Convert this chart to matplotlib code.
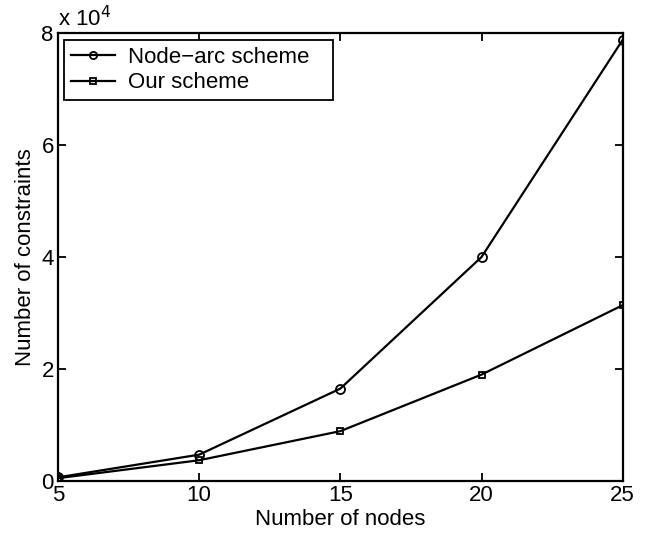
import matplotlib
matplotlib.use("Agg")
import matplotlib.pyplot as plt

plt.rcParams['font.family'] = ['Liberation Sans', 'DejaVu Sans']

# data (number of constraints, x 10^4 shown on axis)
nodes = [5, 10, 15, 20, 25]
node_arc = [650, 4700, 16500, 40000, 78800]
ours = [500, 3700, 8900, 19000, 31400]
y_ticks = [0, 2, 4, 6, 8]

fig = plt.figure(figsize=(6.62, 5.34), dpi=100)
ax = fig.add_axes([0.0876, 0.0993, 0.853, 0.8387])

ax.plot(nodes, [v / 1e4 for v in node_arc], color='black', lw=1.6, marker='o',
        markersize=6.5, markerfacecolor='none', markeredgewidth=1.3, label='Node\u2212arc scheme')
ax.plot(nodes, [v / 1e4 for v in ours], color='black', lw=1.6, marker='s',
        markersize=5, markerfacecolor='none', markeredgewidth=1.3, label='Our scheme')

ax.set_xlim(5, 25)
ax.set_ylim(0, 8)
ax.set_xticks(nodes)
ax.set_yticks(y_ticks)
ax.tick_params(direction='in', top=True, right=True, labelsize=16, length=6, width=1.3, pad=3)
for s in ax.spines.values():
    s.set_linewidth(1.6)

ax.set_xlabel('Number of nodes', fontsize=16, labelpad=2)
ax.set_ylabel('Number of constraints', fontsize=16, labelpad=4)
ax.text(0.0, 1.005, r'x 10$^{4}$', transform=ax.transAxes, fontsize=16, va='bottom', ha='left')

leg = ax.legend(loc='upper left', fontsize=16, frameon=True, fancybox=False, framealpha=1,
                edgecolor='black', bbox_to_anchor=(0.0106, 0.857, 0.476, 0.127), mode='expand',
                borderaxespad=0, handlelength=2.0, borderpad=0.3,
                labelspacing=0.2, handletextpad=0.6, markerscale=0.8)
leg.get_frame().set_linewidth(1.3)

fig.savefig('out.png', dpi=100)
